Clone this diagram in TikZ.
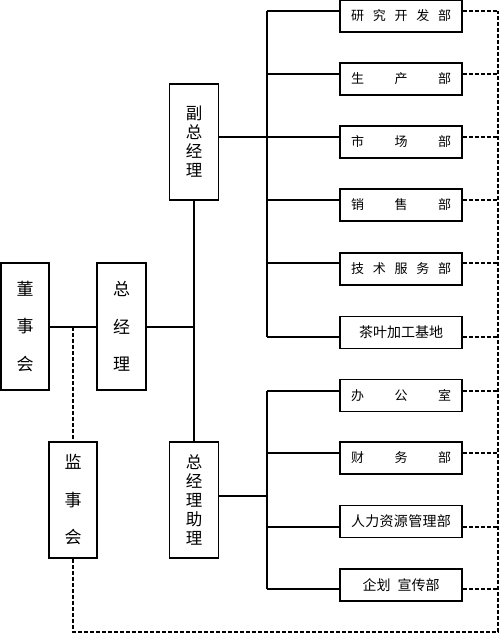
\documentclass[tikz,border=0pt]{standalone}
\usepackage{fontspec}
\newfontfamily\cjk{Noto Sans CJK SC}
\begin{document}
\begin{tikzpicture}[x=1pt,y=-1pt,
  box/.style={draw, line width=1.6pt, inner sep=0pt, fill=white},
  dept/.style={box, minimum width=122pt, minimum height=32pt, font=\cjk\fontsize{13}{13}\selectfont},
  deptb/.style={box, minimum width=122pt, minimum height=32pt, font=\cjk\fontsize{14}{14}\selectfont},
  vboxw/.style={box, align=center, font=\cjk\fontsize{17}{37.5}\selectfont},
  vboxn/.style={box, align=center, font=\cjk\fontsize{16.5}{19}\selectfont},
  link/.style={line width=1.5pt},
  dline/.style={line width=1.1pt, dash pattern=on 4pt off 2pt}]
\useasboundingbox (0,0) rectangle (500,634);
\fill[white] (0,0) rectangle (500,634);
% left column
\node[vboxw, minimum width=48pt, minimum height=127pt] (dsh) at (25,326.5) {董\\事\\会};
\node[vboxw, minimum width=49pt, minimum height=127pt] (zjl) at (121.5,326.5) {总\\经\\理};
\node[vboxw, minimum width=48pt, minimum height=116pt] (jsh) at (73,500) {监\\事\\会};
\node[vboxn, minimum width=49pt, minimum height=116pt] (fzjl) at (194,142) {副\\总\\经\\理};
\node[vboxn, minimum width=49pt, minimum height=116pt] (zjlzl) at (194,500) {总\\经\\理\\助\\理};
% right column
\node[dept] (r1) at (401,16) {\makebox[100pt]{研\hfill 究\hfill 开\hfill 发\hfill 部}};
\node[dept] (r2) at (401,79) {\makebox[100pt]{生\hfill 产\hfill 部}};
\node[dept] (r3) at (401,142) {\makebox[100pt]{市\hfill 场\hfill 部}};
\node[dept] (r4) at (401,205) {\makebox[100pt]{销\hfill 售\hfill 部}};
\node[dept] (r5) at (401,269) {\makebox[100pt]{技\hfill 术\hfill 服\hfill 务\hfill 部}};
\node[deptb] (r6) at (401,332.5) {茶叶加工基地};
\node[dept] (r7) at (401,395.5) {\makebox[100pt]{办\hfill 公\hfill 室}};
\node[dept] (r8) at (401,458) {\makebox[100pt]{财\hfill 务\hfill 部}};
\node[deptb] (r9) at (401,521.5) {\makebox[100pt]{人\hfill 力\hfill 资\hfill 源\hfill 管\hfill 理\hfill 部}};
\node[deptb] (r10) at (401,585) {\makebox[77pt]{企划\hfill 宣传部}};
% junctions
\coordinate (j1) at (194,327);
\coordinate (jd) at (73,327);
\coordinate (ub) at (267,137);
\coordinate (lb) at (267,496);
\coordinate (bl) at (73,632);
\coordinate (br) at (498,632);
\foreach \i/\y in {1/11,2/74,3/137,4/200,5/263,6/337,7/391,8/453,9/527,10/589}{
  \coordinate (u\i) at (267,\y);
  \coordinate (d\i) at (498,\y);
}
% solid connectors
\draw[link] (dsh.east |- j1) -- (zjl.west |- j1);
\draw[link] (zjl.east |- j1) -- (j1);
\draw[link] (fzjl.south) -- (zjlzl.north);
\draw[link] (fzjl.east |- ub) -- (ub);
\draw[link] (zjlzl.east |- lb) -- (lb);
\draw[link] (u1) -- (u6);
\draw[link] (u7) -- (u10);
\foreach \i in {1,...,10}{
  \draw[link] (u\i) -- (r\i.west |- u\i);
  \draw[dline] (r\i.east |- d\i) -- (d\i);
}
% dashed supervision lines
\draw[dline] (jd) -- (jsh.north);
\draw[dline] (jsh.south) -- (bl) -- (br) -- (d1);
\end{tikzpicture}
\end{document}
